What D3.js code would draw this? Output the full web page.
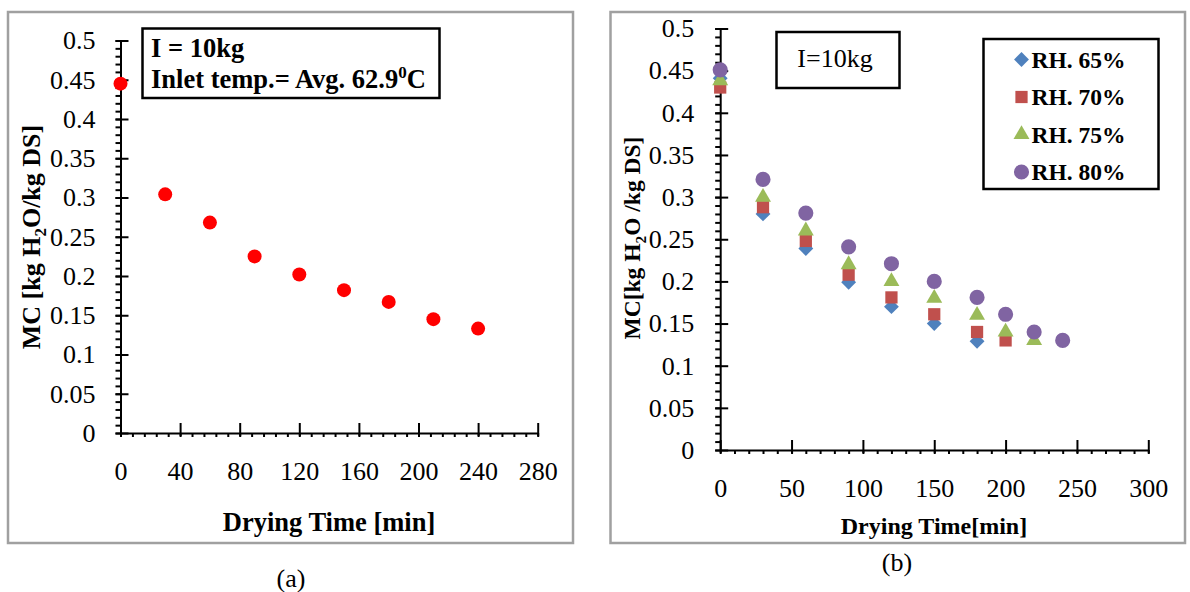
<!DOCTYPE html>
<html>
<head>
<meta charset="utf-8">
<script src="https://cdn.jsdelivr.net/npm/d3@7"></script>
<style>
  body { margin: 0; background: #fff; }
  svg { display: block; font-family: "Liberation Serif", "Times New Roman", serif; }
</style>
</head>
<body>
<svg id="chart" width="1190" height="592"></svg>
<script>
// --------------------
// Data
// --------------------
// panel (a): single run
const timeA = [0, 30, 60, 90, 120, 150, 180, 210, 240];
const mcA = [0.445, 0.304, 0.268, 0.225, 0.202, 0.182, 0.167, 0.145, 0.133];

// panel (b): relative humidity runs
const seriesNames = ["RH. 65%", "RH. 70%", "RH. 75%", "RH. 80%"];
const timeB = [0, 30, 60, 90, 120, 150, 180, 200, 220, 240];
const rh65 = [0.441, 0.28, 0.239, 0.199, 0.17, 0.15, 0.129];
const rh70 = [0.43, 0.288, 0.248, 0.208, 0.181, 0.161, 0.14, 0.13];
const rh75 = [0.438, 0.30, 0.26, 0.22, 0.20, 0.18, 0.16, 0.14, 0.13];
const rh80 = [0.451, 0.321, 0.281, 0.241, 0.221, 0.20, 0.181, 0.161, 0.14, 0.13];

const yTicks = [0, 0.05, 0.1, 0.15, 0.2, 0.25, 0.3, 0.35, 0.4, 0.45, 0.5];
const xTicksA = [0, 40, 80, 120, 160, 200, 240, 280];
const xTicksB = [0, 50, 100, 150, 200, 250, 300];

const colors = ["#4F81BD", "#C0504D", "#9BBB59", "#8064A2"];
const symbols = [d3.symbolDiamond2, d3.symbolSquare, d3.symbolTriangle, d3.symbolCircle];
const symSizes = [140, 150, 110, 180];

const svg = d3.select("#chart");

// --------------------
// helpers
// --------------------
function frame(x0, y0, x1, y1) {
  svg.append("rect")
    .attr("x", x0).attr("y", y0)
    .attr("width", x1 - x0).attr("height", y1 - y0)
    .attr("fill", "#fff")
    .attr("stroke", "#a0a0a0")
    .attr("stroke-width", 2.5);
}

function drawAxes(g, x, y, xTicks, xMinorStep, labelPadX, labelPadY) {
  const [x0, x1] = x.domain();
  const xMinor = d3.range(x0, x1 + 0.001, xMinorStep);
  const yMinor = d3.range(0, 0.5001, 0.01);
  const h = y.range()[0];
  const left = x.range()[0];

  // minor ticks
  g.append("g")
    .attr("transform", `translate(0,${h})`)
    .call(d3.axisBottom(x).tickValues(xMinor).tickSize(4).tickFormat(""))
    .call(s => s.select(".domain").remove());
  g.append("g")
    .attr("transform", `translate(${left},0)`)
    .call(d3.axisLeft(y).tickValues(yMinor).tickSize(5).tickFormat(""))
    .call(s => s.select(".domain").remove());

  // major ticks + labels (major ticks cross the axis)
  const xa = g.append("g")
    .attr("transform", `translate(0,${h})`)
    .call(d3.axisBottom(x).tickValues(xTicks).tickSize(3).tickSizeOuter(0).tickPadding(labelPadY));
  xa.selectAll(".tick line").attr("y1", -10);
  const ya = g.append("g")
    .attr("transform", `translate(${left},0)`)
    .call(d3.axisLeft(y).tickValues(yTicks).tickSize(5).tickSizeOuter(0).tickPadding(labelPadX)
      .tickFormat(d => String(+d.toFixed(2))));
  ya.selectAll(".tick line").attr("x1", 8);

  g.selectAll(".domain").attr("stroke-width", 2);
  g.selectAll(".tick line").attr("stroke", "#000").attr("stroke-width", 2);
  g.selectAll(".tick text")
    .attr("fill", "#000")
    .style("font-family", "Liberation Serif, serif")
    .style("font-size", "26px");
}

function yTitle(g, cx, cy, label1, label2, size) {
  const t = g.append("text")
    .attr("transform", `translate(${cx},${cy}) rotate(-90)`)
    .attr("text-anchor", "middle")
    .attr("dy", "0.35em")
    .style("font-size", size + "px")
    .style("font-weight", "bold");
  t.append("tspan").text(label1);
  t.append("tspan").attr("dy", 6).style("font-size", (size * 0.65) + "px").text("2");
  t.append("tspan").attr("dy", -6).text(label2);
}

// --------------------
// Panel (a)
// --------------------
frame(8, 12, 573, 543);

const xA = d3.scaleLinear().domain([0, 280]).range([120.5, 537.7]);
const yA = d3.scaleLinear().domain([0, 0.5]).range([433, 40.5]);
const gA = svg.append("g");
drawAxes(gA, xA, yA, xTicksA, 8, 20, 26);

gA.selectAll("circle.pt")
  .data(timeA.map((t, i) => ({ t, v: mcA[i] })))
  .join("circle")
    .attr("class", "pt")
    .attr("cx", d => xA(d.t))
    .attr("cy", d => yA(d.v))
    .attr("r", 7)
    .attr("fill", "#ff0000");

gA.append("text")
  .attr("x", 329).attr("y", 522).attr("dy", "0.35em")
  .attr("text-anchor", "middle")
  .style("font-size", "26.5px").style("font-weight", "bold")
  .text("Drying Time [min]");
yTitle(gA, 31, 237, "MC [kg H", "O/kg DS]", 26);

// annotation box
gA.append("rect")
  .attr("x", 142.5).attr("y", 28.5).attr("width", 297).attr("height", 69.5)
  .attr("fill", "#fff").attr("stroke", "#000").attr("stroke-width", 2.5);
gA.append("text").attr("x", 151).attr("y", 57)
  .style("font-size", "26.5px").style("font-weight", "bold")
  .text("I = 10kg");
const inlet = gA.append("text").attr("x", 151).attr("y", 88)
  .style("font-size", "26.5px").style("font-weight", "bold");
inlet.append("tspan").text("Inlet temp.= Avg. 62.9");
inlet.append("tspan").attr("dy", -10).style("font-size", "17px").text("0");
inlet.append("tspan").attr("dy", 10).text("C");

svg.append("text")
  .attr("x", 291).attr("y", 578).attr("dy", "0.35em")
  .attr("text-anchor", "middle").style("font-size", "26px")
  .text("(a)");

// --------------------
// Panel (b)
// --------------------
frame(610.5, 12, 1185, 543);

const xB = d3.scaleLinear().domain([0, 300]).range([720.2, 1148.3]);
const yB = d3.scaleLinear().domain([0, 0.5]).range([450, 28.5]);
const gB = svg.append("g");
drawAxes(gB, xB, yB, xTicksB, 10, 21, 26);

const seriesB = [rh65, rh70, rh75, rh80];
seriesB.forEach((vals, si) => {
  gB.append("g")
    .selectAll("path")
    .data(vals.map((v, i) => ({ t: timeB[i], v })))
    .join("path")
      .attr("transform", d => `translate(${xB(d.t)},${yB(d.v)})`)
      .attr("d", d3.symbol().type(symbols[si]).size(symSizes[si]))
      .attr("fill", colors[si]);
});

gB.append("text")
  .attr("x", 934).attr("y", 526).attr("dy", "0.35em")
  .attr("text-anchor", "middle")
  .style("font-size", "24px").style("font-weight", "bold")
  .text("Drying Time[min]");
yTitle(gB, 632, 238, "MC[kg H", "O /kg DS]", 23.5);

// I=10kg box
gB.append("rect")
  .attr("x", 776.5).attr("y", 32).attr("width", 123).attr("height", 56)
  .attr("fill", "none").attr("stroke", "#000").attr("stroke-width", 2.5);
gB.append("text").attr("x", 835).attr("y", 67)
  .attr("text-anchor", "middle").style("font-size", "26px")
  .text("I=10kg");

// legend
gB.append("rect")
  .attr("x", 983.5).attr("y", 39).attr("width", 175).attr("height", 150)
  .attr("fill", "#fff").attr("stroke", "#000").attr("stroke-width", 2.5);
const legend = gB.selectAll("g.leg")
  .data(seriesNames)
  .join("g")
    .attr("class", "leg")
    .attr("transform", (d, i) => `translate(1021.5,${59.5 + i * 37.5})`);
legend.append("path")
  .attr("d", (d, i) => d3.symbol().type(symbols[i]).size(symSizes[i])())
  .attr("fill", (d, i) => colors[i]);
legend.append("text")
  .attr("x", 10).attr("dy", "0.35em")
  .style("font-size", "23.5px").style("font-weight", "bold")
  .text(d => d);

svg.append("text")
  .attr("x", 897).attr("y", 562).attr("dy", "0.35em")
  .attr("text-anchor", "middle").style("font-size", "26px")
  .text("(b)");
</script>
</body>
</html>
